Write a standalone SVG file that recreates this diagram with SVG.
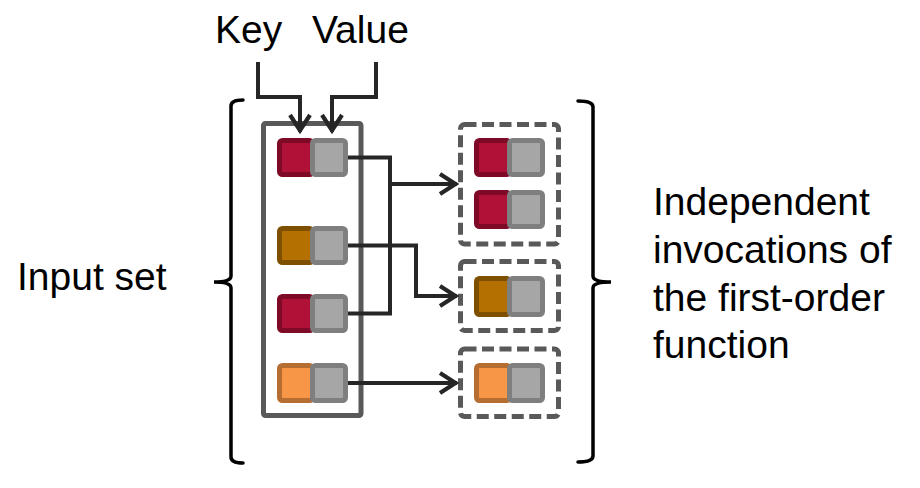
<svg xmlns="http://www.w3.org/2000/svg" width="920" height="488" viewBox="0 0 920 488">
<style>
text{font-family:"Liberation Sans",Arial,sans-serif;font-size:39px;fill:#000}
.k1{fill:#B01237;stroke:#7F0A28;stroke-width:5}
.k2{fill:#B47000;stroke:#7F4F00;stroke-width:5}
.k3{fill:#F79646;stroke:#B66D31;stroke-width:5}
.v{fill:#A6A6A6;stroke:#7F7F7F;stroke-width:5}
.box{fill:none;stroke:#595959;stroke-width:5}
.dash{fill:none;stroke:#595959;stroke-width:5;stroke-dasharray:12 5.5}
.con{fill:none;stroke:#262626;stroke-width:4;stroke-linejoin:miter}
.br{fill:none;stroke:#000;stroke-width:3.5;stroke-linecap:round}
</style>
<defs>
<marker id="arr" markerUnits="userSpaceOnUse" markerWidth="30" markerHeight="30" viewBox="-20 -15 30 30" refX="0" refY="0" orient="auto" overflow="visible">
<path d="M-17,-10 L-1.5,0 L-17,10" fill="none" stroke="#262626" stroke-width="4.2"/>
</marker>
</defs>
<g id="label-key"><text x="215" y="43">Key</text></g>
<g id="label-value"><text x="312" y="43">Value</text></g>
<g id="label-input"><text x="17" y="290">Input set</text></g>
<g id="label-invocations"><text x="653" y="215">Independent</text><text x="653" y="263">invocations of</text><text x="653" y="311">the first-order</text><text x="653" y="358">function</text></g>
<g id="bracket-left"><path class="br" d="M243,100 Q231,100 231,106 V276 Q231,282 214,282 Q231,282 231,288 V457 Q231,463 243,463"/></g>
<g id="bracket-right"><path class="br" d="M578,101 Q593,101 593,107 V276 Q593,282 611,282 Q593,282 593,288 V456 Q593,462 578,462"/></g>
<g id="input-set">
<rect class="box" x="263.5" y="123.5" width="97.5" height="292" rx="2"/>
</g>
<g id="in-row1"><rect class="k1" x="279.5" y="140.5" width="33" height="34" rx="3"/><rect class="v" x="312.5" y="140.5" width="33" height="34" rx="3"/></g>
<g id="in-row2"><rect class="k2" x="279.5" y="228.5" width="33" height="34" rx="3"/><rect class="v" x="312.5" y="228.5" width="33" height="34" rx="3"/></g>
<g id="in-row3"><rect class="k1" x="279.5" y="296.5" width="33" height="34" rx="3"/><rect class="v" x="312.5" y="296.5" width="33" height="34" rx="3"/></g>
<g id="in-row4"><rect class="k3" x="279.5" y="365.5" width="33" height="35" rx="3"/><rect class="v" x="312.5" y="365.5" width="33" height="35" rx="3"/></g>
<g id="group1">
<rect class="dash" x="460.5" y="124.5" width="98" height="119.5" rx="4"/>
<rect class="k1" x="476.5" y="140.5" width="33" height="34" rx="3"/><rect class="v" x="509.5" y="140.5" width="33" height="34" rx="3"/>
<rect class="k1" x="476.5" y="192.5" width="33" height="34" rx="3"/><rect class="v" x="509.5" y="192.5" width="33" height="34" rx="3"/>
</g>
<g id="group2">
<rect class="dash" x="460.5" y="261.5" width="98" height="69" rx="4"/>
<rect class="k2" x="476.5" y="278.5" width="33" height="36" rx="3"/><rect class="v" x="509.5" y="278.5" width="33" height="36" rx="3"/>
</g>
<g id="group3">
<rect class="dash" x="460.5" y="349" width="98" height="67.5" rx="4"/>
<rect class="k3" x="476.5" y="365.5" width="33" height="35" rx="3"/><rect class="v" x="509.5" y="365.5" width="33" height="35" rx="3"/>
</g>
<g id="connectors">
<path class="con" d="M258,62 V97 H300 V132" marker-end="url(#arr)"/>
<path class="con" d="M376,62 V97 H332 V132" marker-end="url(#arr)"/>
<path class="con" d="M348,157.5 H390 V313.5 H348"/>
<path class="con" d="M390,184 H457" marker-end="url(#arr)"/>
<path class="con" d="M348,245.5 H416 V296 H457" marker-end="url(#arr)"/>
<path class="con" d="M348,383 H457" marker-end="url(#arr)"/>
</g>
</svg>
